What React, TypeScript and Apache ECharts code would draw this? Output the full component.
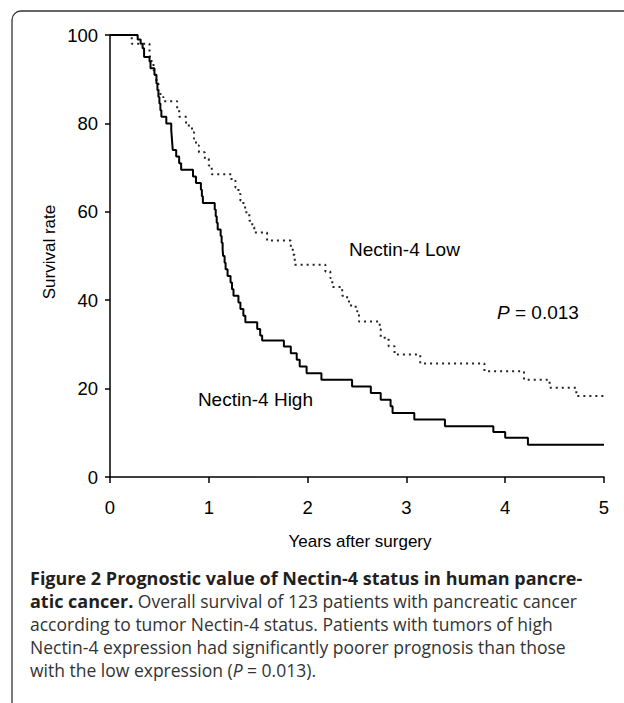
import React, { useEffect, useRef } from "react";
import * as echarts from "echarts";

// Kaplan-Meier steps: [years, survival %] (value after the step)
const highTimes = [0, 0.28, 0.31, 0.33, 0.345, 0.4, 0.41, 0.45, 0.47, 0.48, 0.49, 0.5, 0.51, 0.52, 0.57, 0.62, 0.625, 0.63, 0.635, 0.67, 0.7, 0.72, 0.84, 0.87, 0.92, 0.93, 0.94, 1.06, 1.07, 1.08, 1.09, 1.12, 1.13, 1.14, 1.145, 1.16, 1.17, 1.19, 1.22, 1.235, 1.25, 1.3, 1.32, 1.35, 1.37, 1.49, 1.52, 1.54, 1.76, 1.83, 1.89, 1.92, 1.99, 2.14, 2.45, 2.64, 2.74, 2.84, 2.86, 3.08, 3.39, 3.88, 4.0, 4.23, 5.0];
const highValues = [100, 99, 98, 97, 95, 94, 92.5, 91, 89, 87.5, 86, 84.5, 83, 81.5, 80, 78.5, 77, 75.5, 74, 72.5, 71, 69.5, 68, 66.5, 65, 63.5, 62, 60.5, 59, 57.5, 56, 54.5, 53, 51.5, 50, 48.5, 47, 45.5, 44, 42.5, 41, 39.5, 38, 36.5, 35, 33.5, 32, 30.9, 29.5, 28, 26.5, 25, 23.5, 22, 20.5, 19, 17.5, 16, 14.5, 13, 11.5, 10.2, 8.9, 7.3, 7.3];

const lowTimes = [0, 0.22, 0.4, 0.405, 0.42, 0.44, 0.46, 0.47, 0.49, 0.51, 0.54, 0.68, 0.7, 0.77, 0.83, 0.85, 0.87, 0.9, 0.96, 1.0, 1.03, 1.23, 1.27, 1.3, 1.32, 1.35, 1.38, 1.41, 1.44, 1.46, 1.59, 1.83, 1.85, 1.87, 2.18, 2.23, 2.25, 2.35, 2.4, 2.44, 2.5, 2.52, 2.73, 2.74, 2.82, 2.88, 3.14, 3.79, 4.19, 4.45, 4.72, 5.0];
const lowValues = [100, 98, 96.5, 95, 93.5, 92, 90.5, 89, 87.5, 86, 85, 83, 81.5, 79.5, 78, 76.5, 75, 73.5, 72, 70.5, 68.5, 67, 65.5, 64, 62.5, 61, 59.5, 58, 56.5, 55.3, 53.5, 51.8, 50.3, 48, 46.5, 45, 43, 41, 39.7, 38.5, 37.5, 35.2, 33.4, 31.5, 29.6, 27.7, 25.7, 23.9, 22, 20.2, 18.3, 18.3];

const xTicks = [0, 1, 2, 3, 4, 5];
const yTicks = [0, 20, 40, 60, 80, 100];

const captionLines = [
  "{b|Figure 2 Prognostic value of Nectin-4 status in human pancre-}",
  "{b|atic cancer.}{r| Overall survival of 123 patients with pancreatic cancer}",
  "{r|according to tumor Nectin-4 status. Patients with tumors of high}",
  "{r|Nectin-4 expression had significantly poorer prognosis than those}",
  "{r|with the low expression (}{i|P}{r| = 0.013).}",
];

const FONT = "'Liberation Sans', Arial, sans-serif";
const CAP_FONT = "'Open Sans', 'Noto Sans', sans-serif";

export default function App() {
  const ref = useRef<HTMLDivElement>(null);
  useEffect(() => {
    if (!ref.current) return;
    const chart = echarts.init(ref.current, null, { renderer: "svg" });
    const high = highTimes.map((t, i) => [t, highValues[i]]);
    const low = lowTimes.map((t, i) => [t, lowValues[i]]);
    const capRich = {
      b: { fontFamily: CAP_FONT, fontSize: 18, fontWeight: "bold", fill: "#231f20", lineHeight: 19 },
      r: { fontFamily: CAP_FONT, fontSize: 17.5, fill: "#333", lineHeight: 19 },
      i: { fontFamily: CAP_FONT, fontSize: 17.5, fontStyle: "italic", fill: "#333", lineHeight: 19 },
    };
    chart.setOption({
      animation: false,
      backgroundColor: "#fff",
      grid: { left: 110, right: 20, top: 35, bottom: 226, containLabel: false },
      xAxis: {
        type: "value",
        min: 0,
        max: 5,
        interval: 1,
        axisLine: { show: true, lineStyle: { color: "#000", width: 1.5 } },
        axisTick: { show: true, length: 6, lineStyle: { color: "#000", width: 1.5 } },
        axisLabel: {
          margin: 21,
          fontSize: 18.5,
          fontFamily: FONT,
          color: "#000",
          formatter: (v: number) => (xTicks.includes(v) ? String(v) : ""),
        },
        splitLine: { show: false },
      },
      yAxis: {
        type: "value",
        min: 0,
        max: 100,
        interval: 20,
        axisLine: { show: true, lineStyle: { color: "#000", width: 1.5 } },
        axisTick: { show: true, length: 5, lineStyle: { color: "#000", width: 1.5 } },
        axisLabel: {
          margin: 12,
          fontSize: 18.5,
          fontFamily: FONT,
          color: "#000",
          formatter: (v: number) => (yTicks.includes(v) ? String(v) : ""),
        },
        splitLine: { show: false },
      },
      series: [
        {
          name: "Nectin-4 Low",
          type: "line",
          step: "end",
          data: low,
          symbol: "none",
          lineStyle: { color: "#222", width: 2, type: [2, 4] },
          z: 2,
        },
        {
          name: "Nectin-4 High",
          type: "line",
          step: "end",
          data: high,
          symbol: "none",
          lineStyle: { color: "#000", width: 2 },
          z: 3,
        },
      ],
      graphic: [
        {
          type: "rect",
          shape: { x: 12, y: 11, width: 700, height: 700, r: 9 },
          style: { fill: "none", stroke: "#333", lineWidth: 1.3 },
          silent: true,
        },
        {
          type: "text",
          x: 49,
          y: 252,
          rotation: Math.PI / 2,
          style: { text: "Survival rate", fontSize: 17, fontFamily: FONT, fill: "#000", align: "center", verticalAlign: "middle" },
        },
        {
          type: "text",
          x: 360,
          y: 541,
          style: { text: "Years after surgery", fontSize: 17, fontFamily: FONT, fill: "#000", align: "center", verticalAlign: "middle" },
        },
        {
          type: "text",
          x: 349,
          y: 249,
          style: { text: "Nectin-4 Low", fontSize: 19, fontFamily: FONT, fill: "#000", align: "left", verticalAlign: "middle" },
        },
        {
          type: "text",
          x: 313,
          y: 399,
          style: { text: "Nectin-4 High", fontSize: 19, fontFamily: FONT, fill: "#000", align: "right", verticalAlign: "middle" },
        },
        {
          type: "text",
          x: 497,
          y: 312,
          style: {
            text: "{i|P}{r| = 0.013}",
            align: "left",
            verticalAlign: "middle",
            rich: {
              i: { fontSize: 19, fontFamily: FONT, fontStyle: "italic", fill: "#000" },
              r: { fontSize: 19, fontFamily: FONT, fill: "#000" },
            },
          },
        },
        ...captionLines.map((line, k) => ({
          type: "text",
          x: 30,
          y: 578 + k * 23,
          style: { text: line, align: "left", verticalAlign: "middle", rich: capRich },
        })),
      ],
    });
    return () => chart.dispose();
  }, []);
  return <div ref={ref} style={{ position: "fixed", left: 0, top: 0, width: 624, height: 703 }} />;
}
